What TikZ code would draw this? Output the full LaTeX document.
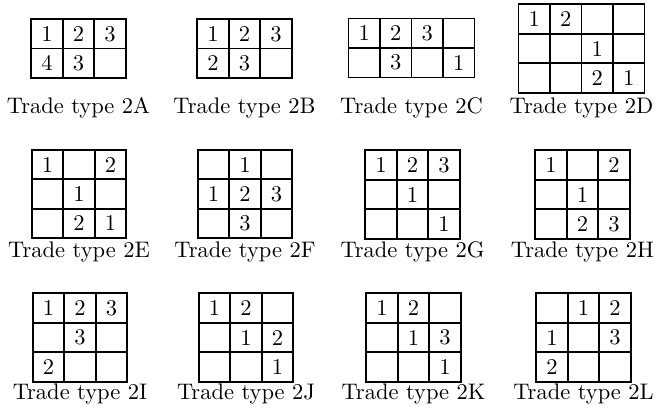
\documentclass[tikz,border=0pt]{standalone}
\usepackage{tikz}
\usetikzlibrary{matrix, positioning}

\tikzset{
  trade/.style={matrix of nodes, nodes in empty cells,
    column sep=-0.8pt, row sep=-0.8pt,
    nodes={draw, line width=0.8pt, minimum width=14pt, minimum height=13.1pt,
      inner sep=0pt, anchor=center}},
  tradelabel/.style={anchor=base}
}

\begin{document}
\begin{tikzpicture}[x=0.4444pt, y=-0.4444pt]
\useasboundingbox (0,0) rectangle (657,408);

% first row
\matrix[trade] (A) at (78.5,48.5) {1 & 2 & 3\\ 4 & 3 & \\};
\matrix[trade] (B) at (244.5,48.5) {1 & 2 & 3\\ 2 & 3 & \\};
\matrix[trade] (C) at (411.5,48) {1 & 2 & 3 & \\ & 3 & & 1\\};
\matrix[trade] (D) at (581.5,48.5) {1 & 2 & & \\ & & 1 & \\ & & 2 & 1\\};
\node[tradelabel] (tA) at (78.5,113) {Trade type 2A};
\node[tradelabel] (tB) at (244.5,113) {Trade type 2B};
\node[tradelabel] (tC) at (411.5,113) {Trade type 2C};
\node[tradelabel] (tD) at (581.5,113) {Trade type 2D};

% second row
\matrix[trade] (E) at (79,194) {1 & & 2\\ & 1 & \\ & 2 & 1\\};
\matrix[trade] (F) at (245,194) { & 1 & \\ 1 & 2 & 3\\ & 3 & \\};
\matrix[trade] (G) at (412.5,194.5) {1 & 2 & 3\\ & 1 & \\ & & 1\\};
\matrix[trade] (H) at (582.5,194.5) {1 & & 2\\ & 1 & \\ & 2 & 3\\};
\node[tradelabel] (tE) at (79,257) {Trade type 2E};
\node[tradelabel] (tF) at (245,257) {Trade type 2F};
\node[tradelabel] (tG) at (412.5,257) {Trade type 2G};
\node[tradelabel] (tH) at (582.5,257) {Trade type 2H};

% third row
\matrix[trade] (I) at (80,337.5) {1 & 2 & 3\\ & 3 & \\ 2 & & \\};
\matrix[trade] (J) at (246,337.5) {1 & 2 & \\ & 1 & 2\\ & & 1\\};
\matrix[trade] (K) at (413.5,337.5) {1 & 2 & \\ & 1 & 3\\ & & 1\\};
\matrix[trade] (L) at (583.5,337.5) { & 1 & 2\\ 1 & & 3\\ 2 & & \\};
\node[tradelabel] (tI) at (80,399) {Trade type 2I};
\node[tradelabel] (tJ) at (246,399) {Trade type 2J};
\node[tradelabel] (tK) at (413.5,399) {Trade type 2K};
\node[tradelabel] (tL) at (583.5,399) {Trade type 2L};
\end{tikzpicture}
\end{document}
